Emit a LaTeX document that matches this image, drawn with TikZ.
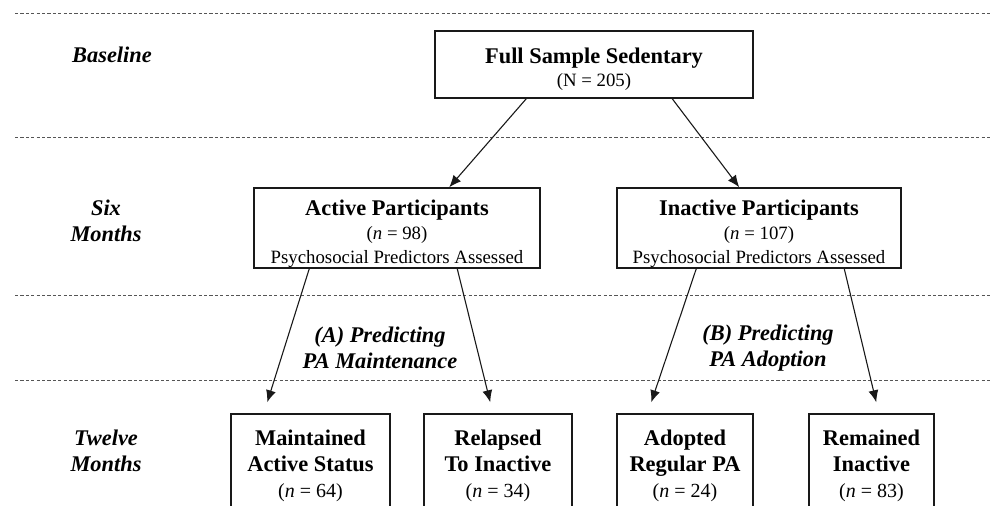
\documentclass[tikz,border=0pt]{standalone}
\usepackage{fontspec}
\setmainfont{Liberation Serif}
\usetikzlibrary{arrows.meta,calc}
\definecolor{figline}{RGB}{25,25,25}
\definecolor{figdash}{RGB}{85,85,85}
\newcommand{\hd}[1]{{\fontsize{11.2}{12}\selectfont\bfseries #1}}
\newcommand{\toppad}[1]{\rule{0pt}{#1}}
\tikzset{
  box/.style  ={draw=figline, line width=0.75pt, align=center, inner sep=2pt, font=\fontsize{9.4}{12}\selectfont},
  boxb/.style ={box, font=\fontsize{10}{13}\selectfont},
  sepl/.style ={draw=figdash, line width=0.45pt, dash pattern=on 1.6pt off 1.1pt},
  phase/.style={font=\fontsize{11.2}{13}\selectfont\bfseries\itshape, align=center, inner sep=1pt},
  ptr/.style  ={draw=figline, line width=0.55pt, -{Latex[length=6pt,width=5pt]}},
}
\begin{document}
\begin{tikzpicture}[x=0.5pt,y=-0.5pt]
  \useasboundingbox (0,0) rectangle (990,505);
  \clip (0,0) rectangle (990,505);
  % phase separators
  \draw[sepl] (15,13) -- (990,13);
  \draw[sepl] (15,137) -- (990,137);
  \draw[sepl] (15,295) -- (990,295);
  \draw[sepl] (15,380) -- (990,380);
  % phase labels
  \node[phase] (pbase) at (112,55) {Baseline};
  \node[phase] (psix) at (106,221) {Six\\Months};
  \node[phase] (ptwelve) at (106,451) {Twelve\\Months};
  \node[phase] (pmaint) at (380,348) {(A) Predicting\\PA Maintenance};
  \node[phase] (padopt) at (768,348) {(B) Predicting\\PA Adoption};
  % boxes
  \node[box, font=\fontsize{9.4}{11.5}\selectfont, minimum width=159pt, minimum height=33.5pt] (full) at (594,64.5)
    {\toppad{12.7pt}\hd{Full Sample Sedentary}\\(N = 205)};
  \node[box, inner ysep=0pt, minimum width=143pt, minimum height=40pt] (act) at (397,228)
    {\toppad{13.6pt}\hd{Active Participants}\\(\textit{n} = 98)\\Psychosocial Predictors Assessed};
  \node[box, inner ysep=0pt, minimum width=142pt, minimum height=40pt] (inact) at (759,228)
    {\toppad{13.6pt}\hd{Inactive Participants}\\(\textit{n} = 107)\\Psychosocial Predictors Assessed};
  \node[boxb, minimum width=79.5pt, minimum height=49pt] (mnt) at (310.5,463)
    {\toppad{10.2pt}\hd{Maintained}\\\hd{Active Status}\\(\textit{n} = 64)};
  \node[boxb, minimum width=74pt, minimum height=49pt] (rel) at (498,463)
    {\toppad{10.2pt}\hd{Relapsed}\\\hd{To Inactive}\\(\textit{n} = 34)};
  \node[boxb, minimum width=68pt, minimum height=49pt] (adp) at (685,463)
    {\toppad{10.2pt}\hd{Adopted}\\\hd{Regular PA}\\(\textit{n} = 24)};
  \node[boxb, minimum width=62.5pt, minimum height=49pt] (rem) at (871.5,463)
    {\toppad{10.2pt}\hd{Remained}\\\hd{Inactive}\\(\textit{n} = 83)};
  % arrows
  \draw[ptr] ($(full.south west)+(92,0)$) -- ($(act.north west)+(196,0)$);
  \draw[ptr] ($(full.south west)+(238,0)$) -- ($(inact.north west)+(123,0)$);
  \draw[ptr] ($(act.south west)+(56,0)$) -- ($(mnt.north west)+(37,-11)$);
  \draw[ptr] ($(act.south west)+(204,0)$) -- ($(rel.north west)+(67,-11)$);
  \draw[ptr] ($(inact.south west)+(80,0)$) -- ($(adp.north west)+(35,-11)$);
  \draw[ptr] ($(inact.south west)+(228,0)$) -- ($(rem.north west)+(68,-11)$);
\end{tikzpicture}
\end{document}
